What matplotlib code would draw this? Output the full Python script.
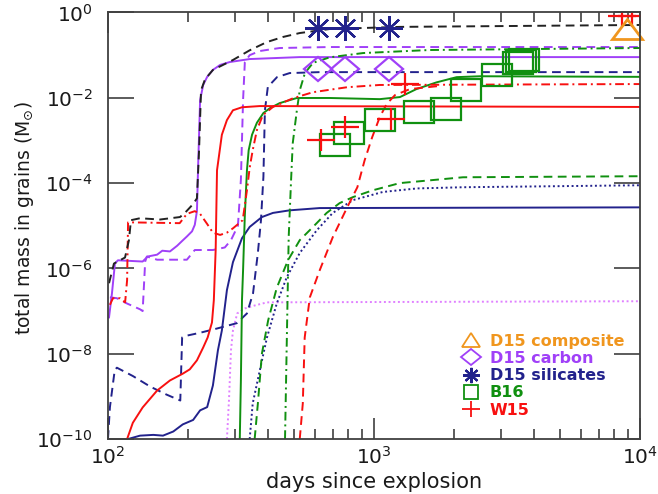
import matplotlib
matplotlib.use("Agg")
import matplotlib.pyplot as plt
from matplotlib.lines import Line2D
from matplotlib.markers import MarkerStyle
from matplotlib.transforms import Affine2D
from matplotlib.ticker import NullLocator, LogLocator

# ---- model curves (days, total grain mass in Msun) ----
black_dash_d = [100.9, 105.3, 115.9, 119.9, 122, 131.9, 156.8, 186.5, 194.6, 208.7, 216, 220, 223.8, 231.6,
                248, 295, 341, 396, 454, 526, 682, 1250, 2970, 10000]
black_dash_m = [4.5e-7, 1.3e-6, 1.8e-6, 4.6e-6, 1.35e-5, 1.5e-5, 1.4e-5, 1.6e-5, 2.0e-5, 3.2e-5, 4.4e-5, 5.9e-4,
                1.5e-2, 2.7e-2, 4.5e-2, 0.077, 0.13, 0.203, 0.266, 0.33, 0.41, 0.46, 0.48, 0.51]

purple_solid_d = [100.9, 103.5, 106.2, 109, 121, 135, 141, 153, 160, 171, 182, 190, 198, 207, 212, 216, 218,
                  222, 228, 236, 248, 264, 287, 341, 526, 10000]
purple_solid_m = [7.1e-8, 2.6e-7, 1.3e-6, 1.55e-6, 1.5e-6, 1.45e-6, 1.9e-6, 2.1e-6, 2.6e-6, 2.5e-6, 3.4e-6,
                  4.4e-6, 5.6e-6, 7.4e-6, 1.05e-5, 2.2e-5, 2.0e-4, 8.8e-3, 0.02, 0.031, 0.045, 0.059, 0.069,
                  0.081, 0.09, 0.09]

purple_dash_d = [101.7, 108, 118, 132, 135, 138, 140, 153, 198, 212, 248, 275, 290, 308, 316, 322, 327, 341,
                 372, 442, 682, 10000]
purple_dash_m = [2.1e-7, 2.0e-7, 1.5e-7, 1.1e-7, 1.0e-7, 1.45e-6, 1.9e-6, 1.6e-6, 1.6e-6, 2.7e-6, 2.7e-6,
                 3.1e-6, 4.6e-6, 1.0e-5, 1.2e-4, 8.8e-3, 0.069, 0.10, 0.125, 0.147, 0.155, 0.155]

violet_dot_d = [280, 285, 290, 295, 306, 327, 356, 396, 10000]
violet_dot_m = [1e-10, 8e-10, 1.2e-8, 3.5e-8, 8.8e-8, 1.15e-7, 1.35e-7, 1.6e-7, 1.7e-7]

red_dashdot_d = [101.7, 104.4, 111, 116, 118, 119, 123, 186, 198, 212, 222, 236, 248, 264, 280, 295, 321,
                 333, 341, 350, 363, 382, 417, 497, 589, 792, 1051, 10000]
red_dashdot_m = [1.4e-7, 2.0e-7, 2.0e-7, 1.6e-7, 5.3e-7, 1.2e-5, 1.2e-5, 1.15e-5, 1.9e-5, 2.2e-5, 1.9e-5,
                 1.1e-5, 6.9e-6, 6.1e-6, 6.9e-6, 8.7e-6, 1.35e-5, 6.8e-5, 2.3e-4, 5.9e-4, 1.75e-3, 3.9e-3,
                 6.1e-3, 9.8e-3, 1.35e-2, 1.77e-2, 2.0e-2, 2.1e-2]

red_solid_d = [118, 124, 135, 153, 171, 191, 203, 216, 228, 237, 246, 250, 254, 257, 268, 280, 295, 319,
               372, 10000]
red_solid_m = [1.0e-10, 2.4e-10, 5.5e-10, 1.37e-9, 2.36e-9, 3.4e-9, 4.3e-9, 7.0e-9, 1.4e-8, 2.4e-8, 5.4e-8,
               1.8e-7, 2.7e-6, 2.0e-4, 1.36e-3, 3.0e-3, 5.1e-3, 6.0e-3, 6.4e-3, 6.1e-3]

red_dash_d = [526, 540, 549, 574, 625, 700, 793, 866, 922, 985, 1051, 1115, 1200, 1365, 1767]
red_dash_m = [1e-10, 6.8e-10, 2.4e-8, 2.1e-7, 9.0e-7, 5.4e-6, 2.7e-5, 8e-5, 3.4e-4, 1.2e-3, 3.5e-3, 7.1e-3,
              1.16e-2, 1.6e-2, 1.9e-2]

green_solid_d = [313, 316, 319, 322, 327, 333, 338, 348, 363, 384, 406, 442, 513, 682, 1051, 1252, 1444, 1718,
                 2046, 2500, 10000]
green_solid_m = [1e-10, 2.4e-9, 1.8e-7, 9e-7, 1.8e-5, 2e-4, 5.9e-4, 1.36e-3, 2.6e-3, 4.4e-3, 5.7e-3, 7.5e-3,
                 9.9e-3, 9.9e-3, 9.3e-3, 1.04e-2, 1.6e-2, 2.3e-2, 3.05e-2, 3.2e-2, 3.1e-2]

green_dashdot_d = [463, 473, 478, 488, 495, 513, 526, 550, 590, 682, 910, 1620, 10000]
green_dashdot_m = [1e-10, 1.6e-7, 5.5e-6, 1.2e-4, 8.6e-4, 5.1e-3, 1.5e-2, 0.038, 0.066, 0.089, 0.112, 0.132,
                   0.147]

green_dash_d = [356, 366, 379, 400, 431, 475, 526, 590, 664, 743, 834, 991, 1250, 2160, 10000]
green_dash_m = [1e-10, 6.8e-10, 1.0e-8, 6e-8, 3.5e-7, 1.55e-6, 4.6e-6, 9.4e-6, 2.0e-5, 3.4e-5, 4.7e-5, 6.8e-5,
                1.0e-4, 1.37e-4, 1.45e-4]

navy_dot_d = [341, 350, 372, 396, 431, 470, 526, 609, 700, 834, 1080, 1450, 2160, 10000]
navy_dot_m = [1e-10, 6.8e-10, 4e-9, 2.4e-8, 1.5e-7, 6.2e-7, 2.3e-6, 7.8e-6, 2.0e-5, 4.0e-5, 6.2e-5, 7.5e-5,
              8.0e-5, 8.9e-5]

navy_solid_d = [119, 132, 148, 161, 176, 191, 209, 222, 236, 248, 259, 268, 280, 295, 319, 341, 379, 417, 482,
                625, 10000]
navy_solid_m = [1e-10, 1.2e-10, 1.25e-10, 1.2e-10, 1.5e-10, 2.2e-10, 2.8e-10, 4.7e-10, 5.6e-10, 1.8e-9,
                1.2e-8, 3.5e-8, 3.1e-7, 1.4e-6, 5.1e-6, 9.4e-6, 1.6e-5, 2.0e-5, 2.3e-5, 2.6e-5, 2.7e-5]

navy_dash_d = [100, 101.7, 106, 108, 124, 144, 166, 187, 190, 195, 222, 257, 305, 333, 351, 366, 376, 384,
               389, 399, 432, 482, 625, 10000]
navy_dash_m = [1e-10, 5.6e-10, 4.1e-9, 4.7e-9, 3.0e-9, 1.7e-9, 1.1e-9, 8.0e-10, 2.4e-8, 2.6e-8, 3.1e-8,
               3.9e-8, 5.2e-8, 8.8e-8, 2.6e-7, 2.3e-6, 1.35e-5, 1.4e-4, 5.1e-3, 1.8e-2, 3.05e-2, 3.8e-2, 4.0e-2,
               4.0e-2]

# ---- observations ----
d15_days = [614, 779, 1137]
d15_sil = [0.425, 0.425, 0.425]
d15_carb = [0.048, 0.048, 0.048]
d15_comp_days = [8900]
d15_comp = [0.41]
b16_days = [713, 806, 1051, 1477, 1865, 2220, 2900, 3480, 3580, 3660]
b16_mass = [7.8e-4, 1.5e-3, 3.0e-3, 4.6e-3, 5.4e-3, 1.5e-2, 3.4e-2, 0.066, 0.072, 0.077]
w15_days = [632, 778, 1158, 1309, 8550, 9330]
w15_mass = [1.02e-3, 2.1e-3, 3.2e-3, 2.1e-2, 0.83, 0.83]

legend_labels = ["D15 composite", "D15 carbon", "D15 silicates", "B16", "W15"]

BLACK = "#222222"
PURPLE = "#A040F8"
VIOLET = "#E080FF"
RED = "#F81010"
GREEN = "#109010"
NAVY = "#22228C"
ORANGE = "#F0961E"

dash = (0, (4.5, 2.8))
dashdot = (0, (4.5, 2, 1, 2))
dot = (0, (1, 1.4))


def wide(m, sx):
    return MarkerStyle(m, transform=Affine2D().scale(sx, 1.0))


plt.rcParams["font.family"] = "DejaVu Sans"
fig = plt.figure(figsize=(6.58, 4.94), dpi=100)
ax = fig.add_axes([0.1641, 0.1113, 0.8085, 0.8634])

lw = 1.4
ax.plot(purple_solid_d, purple_solid_m, color=PURPLE, lw=lw)
ax.plot(purple_dash_d, purple_dash_m, color=PURPLE, lw=lw, ls=dash)
ax.plot(violet_dot_d, violet_dot_m, color=VIOLET, lw=lw, ls=dot)
ax.plot(navy_solid_d, navy_solid_m, color=NAVY, lw=lw)
ax.plot(navy_dash_d, navy_dash_m, color=NAVY, lw=lw, ls=dash)
ax.plot(navy_dot_d, navy_dot_m, color=NAVY, lw=lw, ls=dot)
ax.plot(green_solid_d, green_solid_m, color=GREEN, lw=lw)
ax.plot(green_dash_d, green_dash_m, color=GREEN, lw=lw, ls=dash)
ax.plot(green_dashdot_d, green_dashdot_m, color=GREEN, lw=lw, ls=dashdot)
ax.plot(red_solid_d, red_solid_m, color=RED, lw=lw)
ax.plot(red_dash_d, red_dash_m, color=RED, lw=lw, ls=dash)
ax.plot(red_dashdot_d, red_dashdot_m, color=RED, lw=lw, ls=dashdot)
ax.plot(black_dash_d, black_dash_m, color=BLACK, lw=lw, ls=dash)

mew = 1.6
ax.plot(b16_days, b16_mass, ls="none", marker=wide("s", 1.3), ms=16.5, mfc="none", mec=GREEN, mew=mew)
ax.plot(w15_days, w15_mass, ls="none", marker=wide("+", 1.2), ms=16.5, mec=RED, mew=mew)
ax.plot(d15_days, d15_carb, ls="none", marker=wide("D", 1.12), ms=12.7, mfc="none", mec=PURPLE, mew=mew)
ax.plot(d15_days, d15_sil, ls="none", marker=wide((8, 2, 0), 1.08), ms=18, mec=NAVY, mew=mew)
ax.plot(d15_comp_days, d15_comp, ls="none", marker=wide("^", 1.4), ms=15, mfc="none", mec=ORANGE, mew=2.0,
        clip_on=False)

ax.set_xscale("log")
ax.set_yscale("log")
ax.set_xlim(100, 1e4)
ax.set_ylim(1e-10, 1)
ax.set_yticks([1, 1e-2, 1e-4, 1e-6, 1e-8, 1e-10])
ax.yaxis.set_minor_locator(NullLocator())
ax.xaxis.set_minor_locator(LogLocator(base=10, subs=range(2, 10)))

axcol = "#404040"
for s in ax.spines.values():
    s.set_color(axcol)
    s.set_linewidth(1.3)
ax.tick_params(which="both", direction="in", top=True, right=True, color=axcol, width=1.2,
               labelsize=14.5, labelcolor="#1a1a1a")
ax.tick_params(axis="x", which="major", length=15, pad=5)
ax.tick_params(axis="x", which="minor", length=7)
ax.tick_params(axis="y", which="major", length=19, pad=11)

ax.set_xlabel("days since explosion", fontsize=15, color="#1a1a1a")
ax.set_ylabel(r"total mass in grains (M$_{\odot}$)", fontsize=13.5, color="#1a1a1a")
ax.xaxis.set_label_coords(0.5, -0.1)
ax.xaxis.label.set_va("center")
ax.yaxis.set_label_coords(-0.156, 0.518)
ax.yaxis.label.set_va("center")

handles = [
    Line2D([], [], ls="none", marker=wide("^", 1.3), ms=10, mfc="none", mec=ORANGE, mew=1.3),
    Line2D([], [], ls="none", marker=wide("D", 1.15), ms=8.5, mfc="none", mec=PURPLE, mew=1.3),
    Line2D([], [], ls="none", marker=wide((8, 2, 0), 1.1), ms=11, mec=NAVY, mew=1.5),
    Line2D([], [], ls="none", marker="s", ms=10, mfc="none", mec=GREEN, mew=1.3),
    Line2D([], [], ls="none", marker=wide("+", 1.2), ms=11, mec=RED, mew=1.3),
]
ax.legend(handles, legend_labels, loc="upper left", bbox_to_anchor=(0.655, 0.262), frameon=False,
          prop={"size": 11.5, "weight": "bold"}, labelcolor=[ORANGE, PURPLE, NAVY, GREEN, RED],
          handlelength=1.0, handletextpad=0.7, labelspacing=0.14, borderaxespad=0)

fig.savefig("out.png", dpi=100)
